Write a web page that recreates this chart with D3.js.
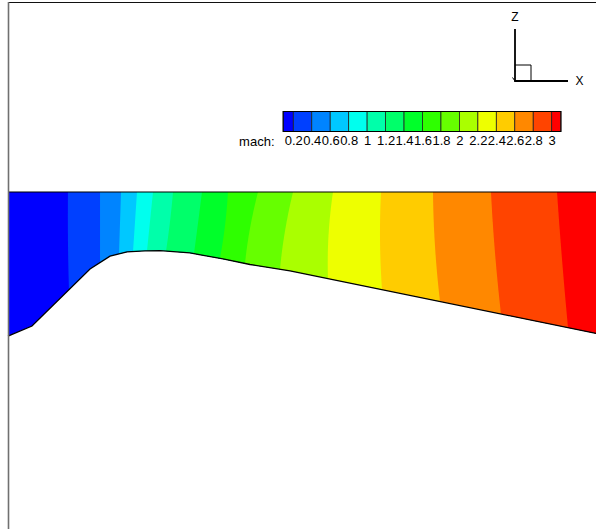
<!DOCTYPE html>
<html>
<head>
<meta charset="utf-8">
<script src="https://cdn.jsdelivr.net/npm/d3@7"></script>
<style>
  html, body { margin: 0; padding: 0; background: #fff; }
  svg { display: block; }
  text { font-family: "Liberation Sans", Arial, sans-serif; }
</style>
</head>
<body>
<svg id="chart" width="596" height="529"></svg>
<script>
// ---------------- data ----------------
// nozzle wall (lower boundary), axis is y = 0
const wallX = [0, 4.08, 13.95, 17.35, 20.24, 23.3, 25.85, 30.95, 36.56, 41.16, 47.96, 100];
const wallY = [-24.5, -22.8, -13.1, -10.9, -10.2, -10.0, -9.97, -10.37, -11.39, -12.33, -13.4, -24.06];

// contour levels of mach number
const levels = [0.2, 0.4, 0.6, 0.8, 1.0, 1.2, 1.4, 1.6, 1.8, 2.0, 2.2, 2.4, 2.6, 2.8, 3.0];
// x position of each level line at the axis (top), half height (mid) and at the wall (bottom)
const levelXTop = [10.20, 15.65, 19.22, 21.94, 24.66, 28.06, 32.99, 37.41, 42.52, 48.47, 55.27, 63.44, 72.28, 82.14, 93.37];
const levelXMid = [10.20, 15.65, 19.05, 21.60, 24.15, 27.55, 32.31, 36.90, 41.16, 47.11, 54.51, 63.27, 72.62, 82.82, 94.22];
const levelXBot = [10.37, 15.65, 18.88, 21.26, 23.64, 26.87, 31.63, 36.05, 40.31, 46.26, 54.42, 63.61, 73.47, 83.84, 95.24];

// band colours (below first level ... above last level)
const bandColors = ["#0000ff", "#0040ff", "#0084ff", "#00c8ff", "#00ffee", "#00ffaa", "#00ff6a", "#00ff2a",
                    "#2eff00", "#66ff00", "#aaff00", "#eeff00", "#ffcc00", "#ff8800", "#ff4400", "#ff0000"];
const machMin = 0.09, machMax = 3.1;
const legendTitle = "mach:";

// ---------------- drawing ----------------
const svg = d3.select("#chart");
const x = d3.scaleLinear().domain([0, 100]).range([8, 596]);
const y = d3.scaleLinear().domain([0, -10]).range([192, 250.8]);

function wallAt(xv) {
  if (xv <= wallX[0]) return wallY[0];
  for (let i = 1; i < wallX.length; i++) {
    if (xv <= wallX[i]) {
      const t = (xv - wallX[i - 1]) / (wallX[i] - wallX[i - 1]);
      return wallY[i - 1] + t * (wallY[i] - wallY[i - 1]);
    }
  }
  return wallY[wallY.length - 1];
}

// level line points (top -> beyond wall)
function levelLine(i) {
  const a = levelXTop[i], b = levelXMid[i], c = levelXBot[i];
  const pts = [];
  for (let e = -0.15; e <= 1.2001; e += 0.025) {
    const xv = a * (1 - e) * (1 - 2 * e) + b * 4 * e * (1 - e) + c * e * (2 * e - 1);
    pts.push([xv, e * wallAt(xv)]);
  }
  return pts;
}

// clip to nozzle
const domainPts = [[0, 0], [100, 0]].concat(wallX.map((d, i) => [d, wallY[i]]).reverse());
const line = d3.line().x(d => x(d[0])).y(d => y(d[1]));
svg.append("clipPath").attr("id", "nozzle")
  .append("path").attr("d", line(domainPts) + "Z");

const g = svg.append("g").attr("clip-path", "url(#nozzle)");
bandColors.forEach((col, k) => {
  let poly;
  if (k === 0) {
    poly = [[-5, 5], [110, 5], [110, -40], [-5, -40]];
  } else {
    const b = levelLine(k - 1);
    poly = b.concat([[110, b[b.length - 1][1]], [110, b[0][1]]]);
  }
  g.append("path").attr("d", line(poly) + "Z").attr("fill", col).attr("stroke", "none");
});

// outlines
svg.append("path").attr("d", line([[0, 0], [100, 0]]))
  .attr("fill", "none").attr("stroke", "#000").attr("stroke-width", 1.2);
svg.append("path").attr("d", line(wallX.map((d, i) => [d, wallY[i]])))
  .attr("fill", "none").attr("stroke", "#000").attr("stroke-width", 1.3);

// frame
svg.append("line").attr("x1", 8).attr("x2", 596).attr("y1", 2.5).attr("y2", 2.5)
  .attr("stroke", "#111").attr("stroke-width", 1.2);
svg.append("line").attr("x1", 8.5).attr("x2", 8.5).attr("y1", 2).attr("y2", 529)
  .attr("stroke", "#707070").attr("stroke-width", 1.6);

// legend
const lx = d3.scaleLinear().domain([0.2, 3.0]).range([293.3, 551.7]);
const edges = [machMin].concat(levels, [machMax]);
const lg = svg.append("g");
bandColors.forEach((col, k) => {
  lg.append("rect")
    .attr("x", lx(edges[k])).attr("y", 111.5)
    .attr("width", lx(edges[k + 1]) - lx(edges[k])).attr("height", 20)
    .attr("fill", col).attr("stroke", "#222").attr("stroke-width", 0.8);
});
lg.append("rect").attr("x", lx(machMin)).attr("y", 111.5)
  .attr("width", lx(machMax) - lx(machMin)).attr("height", 20)
  .attr("fill", "none").attr("stroke", "#000").attr("stroke-width", 1);

const axis = d3.axisBottom(lx).tickValues(levels).tickSize(0).tickPadding(0)
  .tickFormat(d3.format(".1~f"));
const ag = lg.append("g").attr("transform", "translate(0,136)").call(axis);
ag.select(".domain").remove();
ag.selectAll("text").attr("font-size", 13).attr("font-family", "Liberation Sans, Arial, sans-serif")
  .attr("fill", "#000").attr("dy", "0.72em");
lg.append("text").attr("x", 274.5).attr("y", 145.5).attr("text-anchor", "end")
  .attr("font-size", 13).text(legendTitle);

// axis triad
const tg = svg.append("g").attr("stroke", "#000");
tg.append("line").attr("x1", 515).attr("x2", 515).attr("y1", 29).attr("y2", 82).attr("stroke-width", 1.8);
tg.append("line").attr("x1", 515).attr("x2", 568).attr("y1", 81).attr("y2", 81).attr("stroke-width", 1.8);
tg.append("path").attr("d", "M515,65H531V81").attr("fill", "none").attr("stroke-width", 1);
tg.append("path").attr("d", "M512.5,77.5L515,81").attr("fill", "none").attr("stroke-width", 1);
svg.append("text").attr("x", 515).attr("y", 20.5).attr("text-anchor", "middle").attr("font-size", 12).text("Z");
svg.append("text").attr("x", 579.5).attr("y", 85).attr("text-anchor", "middle").attr("font-size", 12).text("X");
</script>
</body>
</html>
